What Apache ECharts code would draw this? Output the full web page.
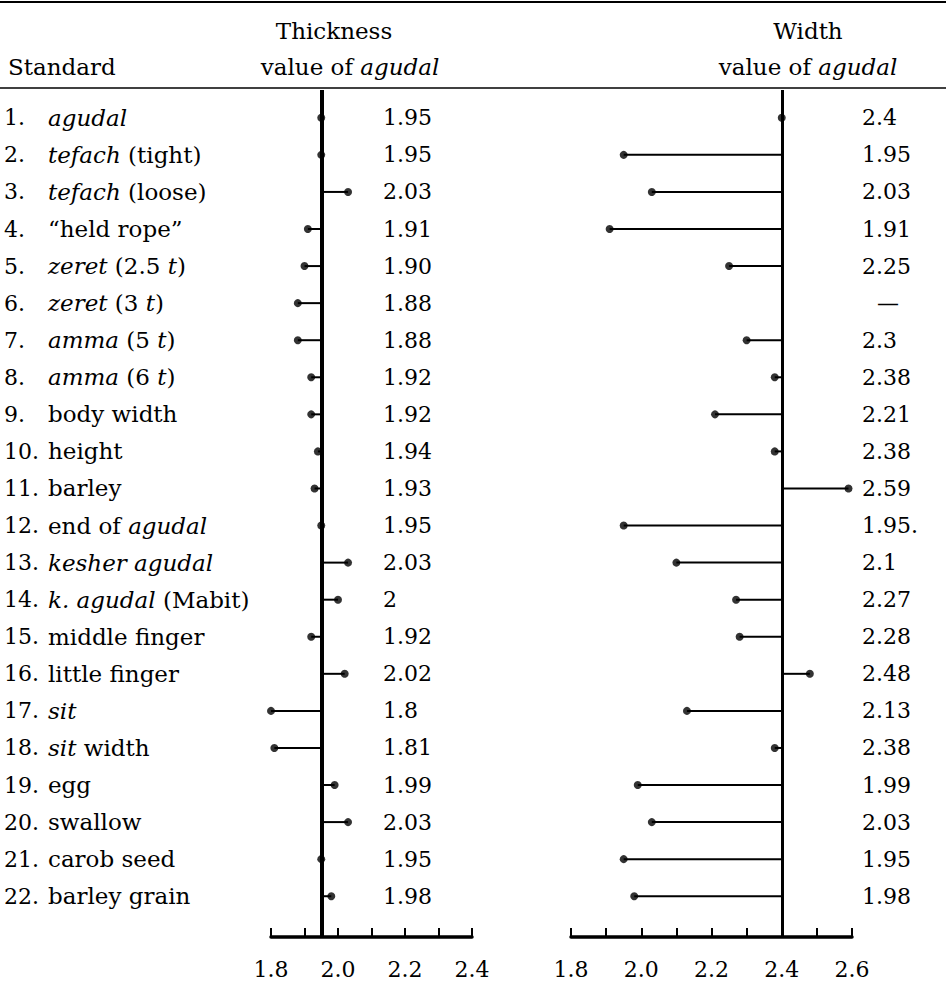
<!DOCTYPE html>
<html><head><meta charset="utf-8">
<script src="https://cdn.jsdelivr.net/npm/echarts@6/dist/echarts.min.js"></script>
<style>html,body{margin:0;padding:0;background:#fff}#c{width:946px;height:988px}</style>
</head><body><div id="c"></div>
<script>
// ---- data ----
const standards = [
  '{i|agudal}', '{i|tefach} (tight)', '{i|tefach} (loose)', '“held rope”',
  '{i|zeret} (2.5 {i|t})', '{i|zeret} (3 {i|t})', '{i|amma} (5 {i|t})', '{i|amma} (6 {i|t})',
  'body width', 'height', 'barley', 'end of {i|agudal}', '{i|kesher agudal}',
  '{i|k. agudal} (Mabit)', 'middle finger', 'little finger', '{i|sit}', '{i|sit} width',
  'egg', 'swallow', 'carob seed', 'barley grain'
];
const thicknessValues = [1.95,1.95,2.03,1.91,1.90,1.88,1.88,1.92,1.92,1.94,1.93,1.95,2.03,2.00,1.92,2.02,1.80,1.81,1.99,2.03,1.95,1.98];
const thicknessLabels = ['1.95','1.95','2.03','1.91','1.90','1.88','1.88','1.92','1.92','1.94','1.93','1.95','2.03','2','1.92','2.02','1.8','1.81','1.99','2.03','1.95','1.98'];
const widthValues = [2.4,1.95,2.03,1.91,2.25,null,2.3,2.38,2.21,2.38,2.59,1.95,2.1,2.27,2.28,2.48,2.13,2.38,1.99,2.03,1.95,1.98];
const widthLabels = ['2.4','1.95','2.03','1.91','2.25','{d|—}','2.3','2.38','2.21','2.38','2.59','1.95.','2.1','2.27','2.28','2.48','2.13','2.38','1.99','2.03','1.95','1.98'];
const thicknessTicks = ['1.8','2.0','2.2','2.4'];
const widthTicks = ['1.8','2.0','2.2','2.4','2.6'];

// ---- layout / style ----
const FONT = 'DejaVu Serif';
const FS = 22;   // numbers
const FT = 23;   // words
const TOP = 90, BOTTOM = 51;
const rows = standards.map((s, i) => i + 1);
const rich = {
  n: { width: 44, fontFamily: FONT, fontSize: FS, color: '#000' },
  t: { fontFamily: FONT, fontSize: FT, color: '#000' },
  i: { fontStyle: 'italic', fontFamily: FONT, fontSize: FT, color: '#000' },
  d: { padding: [0, 0, 0, 15], fontFamily: FONT, fontSize: FS, color: '#000' }
};

const chart = echarts.init(document.getElementById('c'), null, { renderer: 'svg' });

const grids = [
  { left: 4, width: 10 },
  { left: 271, width: 201 },
  { left: 383, width: 10 },
  { left: 571, width: 281 },
  { left: 862, width: 10 }
].map(g => Object.assign({ top: TOP, bottom: BOTTOM, containLabel: false }, g));

function yAxis(idx, formatter, size) {
  return {
    type: 'value', gridIndex: idx, inverse: true, min: 0.25, max: 23.1,
    axisLine: { show: false }, axisTick: { show: false }, splitLine: { show: false },
    axisLabel: formatter ? {
      show: true, customValues: rows, formatter: formatter, align: 'left', margin: 0,
      fontFamily: FONT, fontSize: size, color: '#000', rich: rich
    } : { show: false }
  };
}
function xAxisPlot(idx, ticks) {
  return {
    type: 'value', gridIndex: idx,
    min: Number(ticks[0]), max: Number(ticks[ticks.length - 1]), interval: 0.1,
    axisLine: { show: true, onZero: false, lineStyle: { color: '#000', width: 3.5 } },
    axisTick: { show: true, inside: true, length: 9, lineStyle: { color: '#000', width: 2 } },
    splitLine: { show: false },
    axisLabel: {
      show: true, margin: 21, fontFamily: FONT, fontSize: FS, color: '#000',
      showMinLabel: true, showMaxLabel: true, hideOverlap: false,
      formatter: v => { const s = v.toFixed(1); return ticks.indexOf(s) >= 0 ? s : ''; }
    }
  };
}
function hiddenX(idx) { return { type: 'value', gridIndex: idx, show: false }; }

function stems(axisIdx, values) {
  const ref = values[0];
  const data = values.map((v, i) => [v, i + 1]).filter(d => d[0] !== null);
  return [
    {
      type: 'custom', xAxisIndex: axisIdx, yAxisIndex: axisIdx, data: data, silent: true,
      renderItem: (params, api) => {
        const p0 = api.coord([ref, api.value(1)]);
        const p1 = api.coord([api.value(0), api.value(1)]);
        return { type: 'line', shape: { x1: p0[0], y1: p0[1], x2: p1[0], y2: p1[1] },
                 style: { stroke: '#000', lineWidth: 2 } };
      },
      z: 2
    },
    {
      type: 'scatter', xAxisIndex: axisIdx, yAxisIndex: axisIdx, data: data, silent: true,
      symbol: 'circle', symbolSize: 8, itemStyle: { color: '#000' }, z: 4,
      markLine: {
        silent: true, symbol: 'none', label: { show: false },
        lineStyle: { color: '#000', width: axisIdx === 1 ? 4 : 3, type: 'solid' },
        data: [{ xAxis: ref }], z: 3
      }
    }
  ];
}

function headerText(x, y, text) {
  return {
    type: 'text', x: x, y: y, silent: true,
    style: { text: text, fontFamily: FONT, fontSize: FT, fill: '#000', align: 'center',
             verticalAlign: 'middle', rich: rich }
  };
}

chart.setOption({
  animation: false,
  backgroundColor: '#fff',
  grid: grids,
  xAxis: [hiddenX(0), xAxisPlot(1, thicknessTicks), hiddenX(2), xAxisPlot(3, widthTicks), hiddenX(4)],
  yAxis: [
    yAxis(0, v => { const i = Math.round(v) - 1; return standards[i] !== undefined ? '{n|' + (i + 1) + '.}{t|}' + standards[i] : ''; }, FT),
    yAxis(1, null, FS),
    yAxis(2, v => { const i = Math.round(v) - 1; return thicknessLabels[i] !== undefined ? thicknessLabels[i] : ''; }, FS),
    yAxis(3, null, FS),
    yAxis(4, v => { const i = Math.round(v) - 1; return widthLabels[i] !== undefined ? widthLabels[i] : ''; }, FS)
  ],
  series: [].concat(stems(1, thicknessValues), stems(3, widthValues)),
  graphic: [
    { type: 'line', silent: true, shape: { x1: 0, y1: 2, x2: 946, y2: 2 }, style: { stroke: '#000', lineWidth: 2 } },
    { type: 'line', silent: true, shape: { x1: 0, y1: 88, x2: 946, y2: 88 }, style: { stroke: '#000', lineWidth: 1.5 } },
    { type: 'text', x: 8, y: 67, silent: true,
      style: { text: 'Standard', fontFamily: FONT, fontSize: FT, fill: '#000', align: 'left', verticalAlign: 'middle' } },
    headerText(334, 31, 'Thickness'),
    headerText(350, 67, 'value of {i|agudal}'),
    headerText(808, 31, 'Width'),
    headerText(808, 67, 'value of {i|agudal}')
  ]
});
</script></body></html>
